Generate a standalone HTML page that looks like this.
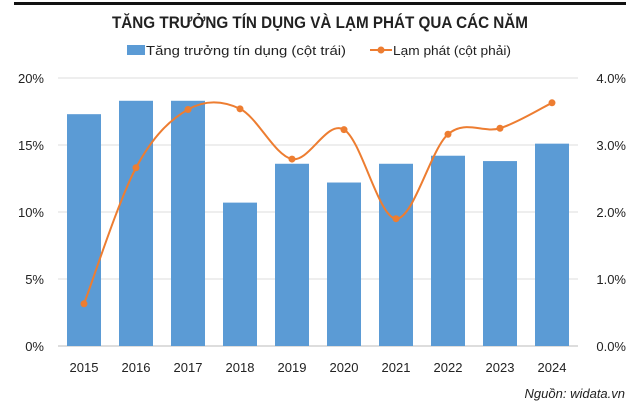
<!DOCTYPE html>
<html><head><meta charset="utf-8"><style>
body{margin:0;background:#fff;width:640px;height:408px;overflow:hidden;font-family:"Liberation Sans",sans-serif}
</style></head><body>
<svg width="640" height="408" xmlns="http://www.w3.org/2000/svg">
<rect x="14" y="2" width="612" height="3" fill="#111"/>
<text x="112" y="28" textLength="416" lengthAdjust="spacingAndGlyphs" font-size="17" font-weight="bold" fill="#222">TĂNG TRƯỞNG TÍN DỤNG VÀ LẠM PHÁT QUA CÁC NĂM</text>
<g>
<rect x="127" y="45" width="18" height="10" fill="#5b9bd5"/>
<text x="146" y="55" textLength="200" lengthAdjust="spacingAndGlyphs" font-size="13" fill="#222">Tăng trưởng tín dụng (cột trái)</text>
<line x1="370" y1="50" x2="392" y2="50" stroke="#ed7d31" stroke-width="2"/>
<circle cx="381" cy="50" r="3.5" fill="#ed7d31"/>
<text x="393" y="55" textLength="118" lengthAdjust="spacingAndGlyphs" font-size="13" fill="#222">Lạm phát (cột phải)</text>
</g>
<g id="grid"></g><g id="bars"></g><g id="line"></g><g id="labels"></g>
<text x="625" y="398" text-anchor="end" font-size="13" font-style="italic" fill="#222">Nguồn: widata.vn</text>
</svg>
<script>
const years=["2015","2016","2017","2018","2019","2020","2021","2022","2023","2024"];
const credit=[17.3,18.3,18.3,10.7,13.6,12.2,13.6,14.2,13.8,15.1];
const inflation=[0.63,2.66,3.53,3.54,2.79,3.23,1.9,3.16,3.25,3.63];
const leftTicks=[0,5,10,15,20];
const rightTicks=[0,1,2,3,4];
const NS="http://www.w3.org/2000/svg";
const x0=58,x1=578,yB=346,yT=78;
const step=(x1-x0)/years.length;
const xC=i=>x0+step*(i+0.5);
const yL=v=>yB-(v/20)*(yB-yT);
const yR=v=>yB-(v/4)*(yB-yT);
function mk(t,a,p){const e=document.createElementNS(NS,t);for(const k in a)e.setAttribute(k,a[k]);p.appendChild(e);return e;}
const g=document.getElementById('grid'),lb=document.getElementById('labels');
leftTicks.forEach((t,i)=>{
 const y=yL(t);
 const l=mk('line',{x1:x0,x2:x1,y1:y,y2:y,stroke:t===0?'#bbb':'#ddd','stroke-width':1},g);
 
 
 const a=mk('text',{x:44,y:y+5,'text-anchor':'end','font-size':13,fill:'#222'},lb);a.textContent=t+'%';
 
 
});
rightTicks.forEach(t=>{
 const b=mk('text',{x:626,y:yR(t)+5,'text-anchor':'end','font-size':13,fill:'#222'},lb);b.textContent=t.toFixed(1)+'%';
 
 
});
const bg=document.getElementById('bars');
credit.forEach((v,i)=>{
 const r=mk('rect',{x:xC(i)-17,y:yL(v),width:34,height:yB-yL(v),fill:'#5b9bd5'},bg);
 
 
 const t=mk('text',{x:xC(i),y:372,'text-anchor':'middle','font-size':13,fill:'#222'},lb);t.textContent=years[i];
 
 
});
const pts=inflation.map((v,i)=>[xC(i),yR(v)]);
let d='M'+pts[0][0]+','+pts[0][1];
for(let i=0;i<pts.length-1;i++){
 const p0=pts[Math.max(0,i-1)],p1=pts[i],p2=pts[i+1],p3=pts[Math.min(pts.length-1,i+2)];
 const c1=[p1[0]+(p2[0]-p0[0])/6,p1[1]+(p2[1]-p0[1])/6],c2=[p2[0]-(p3[0]-p1[0])/6,p2[1]-(p3[1]-p1[1])/6];
 d+=` C${c1[0]},${c1[1]} ${c2[0]},${c2[1]} ${p2[0]},${p2[1]}`;
}
const lg=document.getElementById('line');
const path=mk('path',{d:d,fill:'none',stroke:'#ed7d31','stroke-width':2},lg);


pts.forEach((p,i)=>{
 const c=mk('circle',{cx:p[0],cy:p[1],r:3.5,fill:'#ed7d31'},lg);
 
 
});
</script>
</body></html>
